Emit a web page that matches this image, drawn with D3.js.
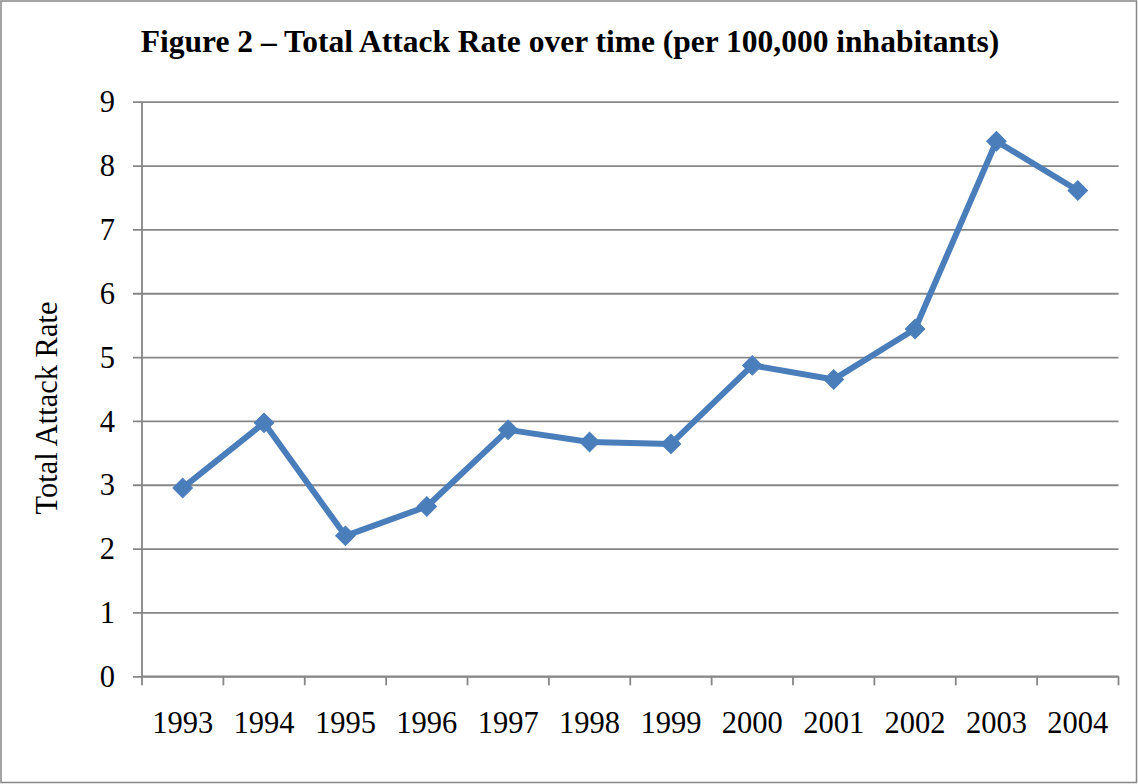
<!DOCTYPE html>
<html>
<head>
<meta charset="utf-8">
<script src="https://cdn.jsdelivr.net/npm/d3@7"></script>
<style>
  html, body { margin: 0; padding: 0; background: #fff; }
  svg { display: block; }
  text { font-family: "Liberation Serif", "Times New Roman", serif; fill: #000; }
</style>
</head>
<body>
<svg id="chart" width="1138" height="784"></svg>
<script>
// Chart data
const years = ["1993", "1994", "1995", "1996", "1997", "1998", "1999", "2000", "2001", "2002", "2003", "2004"];
const attackRate = [2.95, 3.97, 2.20, 2.66, 3.86, 3.67, 3.64, 4.87, 4.65, 5.44, 8.38, 7.61];
const yTicks = [0, 1, 2, 3, 4, 5, 6, 7, 8, 9];

const titleText = "Figure 2 \u2013 Total Attack Rate over time (per 100,000 inhabitants)";
const yTitleText = "Total Attack Rate";

const W = 1138, H = 784;
const margin = { left: 142, right: 19.5, top: 101.7, bottom: 107.7 };
const gridColor = "#868686";
const lineColor = "#4a7ebb";
const labelSize = 30.5;

const svg = d3.select("#chart");

// outer frame
svg.append("rect")
  .attr("x", 1).attr("y", 1)
  .attr("width", W - 2.5).attr("height", H - 2.5)
  .attr("fill", "#fff")
  .attr("stroke", "#868686")
  .attr("stroke-width", 1.5);

const x = d3.scaleBand()
  .domain(years)
  .range([margin.left, W - margin.right])
  .paddingInner(0).paddingOuter(0);

const y = d3.scaleLinear()
  .domain([0, 9])
  .range([H - margin.bottom, margin.top]);

// horizontal gridlines and y tick labels
const yAxis = svg.append("g")
  .attr("transform", `translate(${margin.left},0)`)
  .call(d3.axisLeft(y)
    .tickValues(yTicks)
    .tickSize(-(W - margin.right - margin.left))
    .tickSizeOuter(0)
    .tickPadding(27)
    .tickFormat(d3.format("d")));
yAxis.select(".domain").remove();
yAxis.selectAll(".tick line")
  .attr("x1", -9)
  .attr("stroke", gridColor)
  .attr("stroke-width", 1.8);
yAxis.selectAll(".tick text")
  .attr("font-size", labelSize)
  .attr("font-family", "Liberation Serif, serif")
  .attr("fill", "#000")
  .attr("dy", "0.33em");

// vertical axis line
svg.append("line")
  .attr("x1", margin.left).attr("x2", margin.left)
  .attr("y1", margin.top).attr("y2", H - margin.bottom)
  .attr("stroke", gridColor)
  .attr("stroke-width", 1.8);

// x axis with ticks at band boundaries
const xAxisG = svg.append("g")
  .attr("transform", `translate(0,${H - margin.bottom})`);
xAxisG.append("line")
  .attr("x1", margin.left).attr("x2", W - margin.right)
  .attr("stroke", gridColor).attr("stroke-width", 1.8);
const boundaries = years.map(d => x(d)).concat([x(years[years.length - 1]) + x.bandwidth()]);
xAxisG.selectAll("line.tick")
  .data(boundaries)
  .join("line")
  .attr("class", "tick")
  .attr("x1", d => d).attr("x2", d => d)
  .attr("y1", 0).attr("y2", 9)
  .attr("stroke", gridColor).attr("stroke-width", 1.8);
xAxisG.selectAll("text")
  .data(years)
  .join("text")
  .attr("x", d => x(d) + x.bandwidth() / 2)
  .attr("y", 57)
  .attr("text-anchor", "middle")
  .attr("font-size", labelSize)
  .text(d => d);

// line series
const cx = (d, i) => x(years[i]) + x.bandwidth() / 2;
const line = d3.line()
  .x((d, i) => cx(d, i))
  .y(d => y(d));

svg.append("path")
  .datum(attackRate)
  .attr("d", line)
  .attr("fill", "none")
  .attr("stroke", lineColor)
  .attr("stroke-width", 6)
  .attr("stroke-linejoin", "round");

// diamond markers
const diamond = d3.symbol().type(d3.symbolSquare).size(190);
svg.selectAll("path.marker")
  .data(attackRate)
  .join("path")
  .attr("class", "marker")
  .attr("d", diamond)
  .attr("transform", (d, i) => `translate(${cx(d, i)},${y(d)}) rotate(45)`)
  .attr("fill", lineColor)
  .attr("stroke", lineColor)
  .attr("stroke-width", 1);

// chart title
svg.append("text")
  .attr("x", 570)
  .attr("y", 52)
  .attr("text-anchor", "middle")
  .attr("font-size", 31.5)
  .attr("font-weight", "bold")
  .text(titleText);

// y axis title
svg.append("text")
  .attr("transform", `translate(57,408) rotate(-90)`)
  .attr("text-anchor", "middle")
  .attr("font-size", labelSize)
  .text(yTitleText);
</script>
</body>
</html>
